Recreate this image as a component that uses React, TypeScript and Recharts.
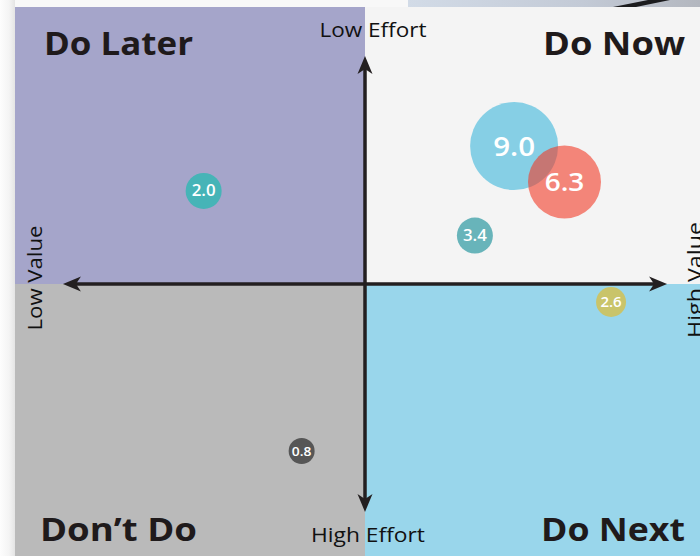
import React from 'react';
import { ScatterChart, Scatter, XAxis, YAxis, ZAxis, ReferenceArea, ReferenceLine } from 'recharts';

// ---- data ----
const bubbleLabels = ['9.0', '6.3', '2.0', '3.4', '2.6', '0.8'];
const valueScores = [4.26, 5.7, -4.61, 3.14, 7.03, -1.81]; // x: low value -> high value
const effortScores = [4.98, 3.68, 3.36, 1.75, -0.65, -6.03]; // y: high effort -> low effort
const bubbleWeights = [1936, 1332, 324, 324, 225, 169];
const quadrantTitles = ['Do Later', 'Do Now', 'Don’t Do', 'Do Next'];
const axisLabels = ['Low Value', 'High Value', 'Low Effort', 'High Effort'];

// ---- styles ----
const bubbleColors = ['#86cfe5', '#f23a26', '#46b4b7', '#68b4ba', '#c9c46a', '#565656'];
const bubbleOpacity = [1, 0.6, 1, 1, 1, 1];
const quadrantColors = ['#a5a5ca', '#f4f4f4', '#bababa', '#99d6eb'];
const titleWidths = [149, 142, 157, 144];
const FONT = '"Open Sans", "DejaVu Sans", sans-serif';
const INK = '#231f20';

const points = bubbleLabels.map((label, i) => ({
  label,
  x: valueScores[i],
  y: effortScores[i],
  size: bubbleWeights[i],
  idx: i,
}));
const maxWeight = Math.max(...bubbleWeights);

const Bubble = (props: any) => {
  const { cx, cy, payload } = props;
  const r = props.width ? props.width / 2 : Math.sqrt((props.size || 0) / Math.PI);
  const fs = Math.min(27, 5.5 + 0.55 * r);
  const i = payload.idx;
  return (
    <g>
      <circle cx={cx} cy={cy} r={r} fill={bubbleColors[i]} fillOpacity={bubbleOpacity[i]} />
      <text
        x={cx}
        y={cy}
        dy="0.36em"
        textAnchor="middle"
        fill="#ffffff"
        fontFamily={FONT}
        fontWeight={600}
        fontSize={fs}
        textLength={fs * 1.55}
        lengthAdjust="spacingAndGlyphs"
      >
        {payload.label}
      </text>
    </g>
  );
};

const arrowHead = (tx: number, ty: number, dx: number, dy: number) => {
  const L = 18;
  const W = 7.5;
  const N = 5;
  const nx = -dy;
  const ny = dx;
  const bx = tx - dx * L;
  const by = ty - dy * L;
  const mx = tx - dx * (L - N);
  const my = ty - dy * (L - N);
  return `M${tx},${ty} L${bx + nx * W},${by + ny * W} L${mx},${my} L${bx - nx * W},${by - ny * W} Z`;
};

const AxisArrow = (props: any) => {
  const { x1, y1, x2, y2, horizontal } = props;
  const len = Math.hypot(x2 - x1, y2 - y1) || 1;
  const dx = (x2 - x1) / len;
  const dy = (y2 - y1) / len;
  const inset = 13;
  const textStyle = { fontFamily: FONT, fontSize: 20, fill: '#111' };
  return (
    <g>
      <line
        x1={x1 + dx * inset}
        y1={y1 + dy * inset}
        x2={x2 - dx * inset}
        y2={y2 - dy * inset}
        stroke={INK}
        strokeWidth={3.5}
      />
      <path d={arrowHead(x2, y2, dx, dy)} fill={INK} />
      <path d={arrowHead(x1, y1, -dx, -dy)} fill={INK} />
      {horizontal ? (
        <g>
          <text
            x={x1 - 21}
            y={y1 - 6}
            transform={`rotate(-90, ${x1 - 21}, ${y1 - 6})`}
            textAnchor="middle"
            textLength={105}
            lengthAdjust="spacingAndGlyphs"
            {...textStyle}
          >
            {axisLabels[0]}
          </text>
          <text
            x={x2 + 35}
            y={y2 - 4}
            transform={`rotate(-90, ${x2 + 35}, ${y2 - 4})`}
            textAnchor="middle"
            textLength={116}
            lengthAdjust="spacingAndGlyphs"
            {...textStyle}
          >
            {axisLabels[1]}
          </text>
        </g>
      ) : (
        <g>
          <text
            x={x1 + 8}
            y={y1 - 19}
            textAnchor="middle"
            textLength={107}
            lengthAdjust="spacingAndGlyphs"
            {...textStyle}
          >
            {axisLabels[2]}
          </text>
          <text
            x={x2 + 3}
            y={y2 + 30}
            textAnchor="middle"
            textLength={114}
            lengthAdjust="spacingAndGlyphs"
            {...textStyle}
          >
            {axisLabels[3]}
          </text>
        </g>
      )}
    </g>
  );
};

const makeTitle = (i: number, side: 'left' | 'right', vert: 'top' | 'bottom') => (props: any) => {
  const vb = props.viewBox || {};
  const { x = 0, y = 0, width = 0, height = 0 } = vb;
  const tx = side === 'left' ? x + (vert === 'top' ? 29 : 25) : x + width - 30;
  const ty = vert === 'top' ? y + 48 : y + height - 20;
  return (
    <text
      x={tx}
      y={ty}
      textAnchor={side === 'left' ? 'start' : 'end'}
      fontFamily={FONT}
      fontWeight={700}
      fontSize={33}
      fill="#1f1a1b"
      textLength={titleWidths[i]}
      lengthAdjust="spacingAndGlyphs"
    >
      {quadrantTitles[i]}
    </text>
  );
};

export default function App() {
  return (
    <div
      style={{
        position: 'absolute',
        left: 0,
        top: 0,
        width: 700,
        height: 556,
        overflow: 'hidden',
        background: '#f8f8f8',
      }}
    >
      <div
        style={{
          position: 'absolute',
          left: 0,
          top: 0,
          width: 15,
          height: 556,
          background: 'linear-gradient(to right, #fdfdfd, #f4f4f4 60%, #e4e4e4)',
        }}
      />
      <div
        style={{
          position: 'absolute',
          left: 408,
          top: 0,
          width: 292,
          height: 7,
          background: 'linear-gradient(to right, #d2dbe7, #c3cad6 60%, #b3b7bf)',
        }}
      />
      <svg style={{ position: 'absolute', left: 600, top: 0 }} width={100} height={7}>
        <path d="M13,7 L36,7 L70,0 L48,0 Z" fill="#1c1c1e" />
      </svg>
      <div style={{ position: 'absolute', left: 0, top: 0 }}>
        <ScatterChart width={715} height={561} margin={{ top: 7, right: 0, bottom: 0, left: 15 }}>
          <XAxis type="number" dataKey="x" domain={[-10, 10]} hide />
          <YAxis type="number" dataKey="y" domain={[-10, 10]} hide />
          <ZAxis type="number" dataKey="size" domain={[0, maxWeight]} range={[0, maxWeight * Math.PI]} />
          <ReferenceArea x1={-10} x2={0} y1={0} y2={10} fill={quadrantColors[0]} fillOpacity={1} stroke="none" label={makeTitle(0, 'left', 'top')} />
          <ReferenceArea x1={0} x2={10} y1={0} y2={10} fill={quadrantColors[1]} fillOpacity={1} stroke="none" label={makeTitle(1, 'right', 'top')} />
          <ReferenceArea x1={-10} x2={0} y1={-10} y2={0} fill={quadrantColors[2]} fillOpacity={1} stroke="none" label={makeTitle(2, 'left', 'bottom')} />
          <ReferenceArea x1={0} x2={10} y1={-10} y2={0} fill={quadrantColors[3]} fillOpacity={1} stroke="none" label={makeTitle(3, 'right', 'bottom')} />
          <ReferenceLine
            segment={[{ x: -8.63, y: 0 }, { x: 8.63, y: 0 }]}
            shape={(p: any) => <AxisArrow {...p} horizontal />}
          />
          <ReferenceLine
            segment={[{ x: 0, y: 8.23 }, { x: 0, y: -8.23 }]}
            shape={(p: any) => <AxisArrow {...p} horizontal={false} />}
          />
          <Scatter data={points} shape={Bubble} isAnimationActive={false} />
        </ScatterChart>
      </div>
    </div>
  );
}
